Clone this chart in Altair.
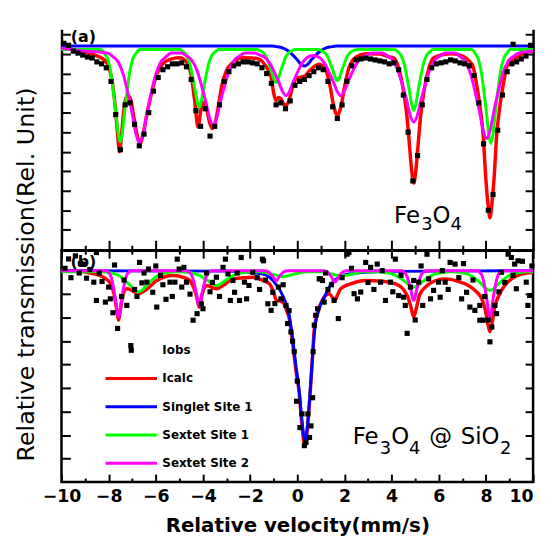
import altair as alt
import pandas as pd

FONT = "DejaVu Sans"

# ---------------- panel (a): Fe3O4 ----------------
top_obs_x = [-9.9, -9.7, -9.5, -9.3, -9.1, -8.9, -8.7, -8.5, -8.3, -8.1,
             -7.9, -7.7, -7.5, -7.3, -7.1, -6.9, -6.7, -6.5, -6.3, -6.1,
             -5.9, -5.7, -5.5, -5.3, -5.1, -4.9, -4.7, -4.5, -4.3, -4.1,
             -3.9, -3.7, -3.5, -3.3, -3.1, -2.9, -2.7, -2.5, -2.3, -2.1,
             -1.9, -1.7, -1.5, -1.3, -1.1, -0.9, -0.7, -0.5, -0.3, -0.1,
             0.1, 0.3, 0.5, 0.7, 0.9, 1.1, 1.3, 1.5, 1.7, 1.9,
             2.1, 2.3, 2.5, 2.7, 2.9, 3.1, 3.3, 3.5, 3.7, 3.9,
             4.1, 4.3, 4.5, 4.7, 4.9, 5.1, 5.3, 5.5, 5.7, 5.9,
             6.1, 6.3, 6.5, 6.7, 6.9, 7.1, 7.3, 7.5, 7.7, 7.9,
             8.1, 8.3, 8.5, 8.7, 8.9, 9.1, 9.3, 9.5, 9.7, 9.9, 9.15]
top_obs_y = [10.55, 10.45, 10.15, 10.05, 9.95, 9.85, 9.8, 9.6, 9.5, 9.3,
             8.6, 6.9, 5.1, 7.4, 7.5, 6.4, 5.3, 5.9, 7.0, 8.1,
             8.8, 9.2, 9.35, 9.5, 9.5, 9.55, 9.35, 8.7, 7.1, 6.3,
             7.2, 5.8, 6.3, 7.4, 8.6, 9.1, 9.4, 9.5, 9.6, 9.6,
             9.55, 9.5, 9.3, 9.0, 8.5, 7.4, 7.5, 7.2, 7.6, 8.4,
             8.6, 8.7, 8.9, 9.1, 9.3, 9.2, 8.6, 7.3, 6.7, 7.4,
             8.6, 9.4, 9.7, 9.75, 9.8, 9.75, 9.7, 9.65, 9.6, 9.5,
             9.55, 9.2, 7.9, 6.0, 3.5, 4.8, 7.4, 8.7, 9.3, 9.5,
             9.55, 9.6, 9.7, 9.65, 9.55, 9.5, 9.4, 8.9, 7.5, 5.4,
             2.0, 2.8, 6.1, 7.9, 9.1, 9.5, 9.6, 9.75, 9.9, 10.45, 10.5]

top_red_x = [-10, -9.5, -9.0, -8.6, -8.22, -8.0, -7.85, -7.72, -7.62, -7.54,
             -7.45, -7.35, -7.25, -7.16, -7.05, -6.95, -6.82, -6.67, -6.52, -6.38,
             -6.2, -5.96, -5.7, -5.4, -4.98, -4.7, -4.5, -4.35, -4.21, -4.08,
             -3.97, -3.85, -3.72, -3.6, -3.48, -3.35, -3.2, -3.01, -2.7, -2.31,
             -1.9, -1.6, -1.35, -1.11, -1.0, -0.9, -0.8, -0.69, -0.58, -0.48,
             -0.36, -0.2, -0.06, 0.08, 0.3, 0.51, 0.93, 1.2, 1.4, 1.55,
             1.7, 1.85, 2.0, 2.19, 2.5, 2.9, 3.5, 3.9, 4.1, 4.24,
             4.38, 4.52, 4.66, 4.75, 4.85, 4.94, 5.03, 5.13, 5.22, 5.36,
             5.5, 5.64, 5.78, 6.1, 6.56, 7.0, 7.33, 7.47, 7.61, 7.75,
             7.89, 7.98, 8.08, 8.17, 8.26, 8.36, 8.45, 8.59, 8.73, 8.87,
             9.01, 9.3, 9.6, 10]
top_red_y = [10.32, 10.22, 10.1, 9.95, 9.73, 9.35, 8.6, 7.3, 5.9, 4.99,
             5.9, 7.2, 7.8, 7.87, 7.6, 6.9, 6.0, 5.42, 6.0, 6.9,
             7.9, 8.97, 9.5, 9.73, 9.81, 9.6, 8.9, 7.6, 6.26, 7.2,
             7.53, 7.2, 6.5, 6.18, 6.5, 7.3, 8.4, 9.14, 9.6, 9.81,
             9.8, 9.73, 9.4, 8.81, 8.0, 7.61, 7.78, 7.7, 7.45, 7.36,
             7.6, 8.3, 8.71, 8.81, 8.85, 9.14, 9.48, 9.2, 8.3, 7.3,
             6.85, 7.3, 8.3, 9.3, 9.85, 10.02, 10.0, 9.85, 9.8, 9.5,
             8.9, 8.0, 6.7, 5.44, 4.05, 3.39, 4.05, 5.44, 6.7, 8.0,
             8.9, 9.5, 9.8, 9.95, 10.02, 9.9, 9.6, 9.3, 8.4, 7.3,
             5.75, 3.9, 2.4, 1.61, 2.4, 3.9, 5.75, 7.3, 8.4, 9.3,
             9.6, 9.8, 10.05, 10.17]

top_blue_x = [-10, -1.05, -0.825, -0.6, -0.375, -0.15, 0.0, 0.15, 0.3, 0.45,
              0.6, 0.75, 0.975, 1.2, 1.425, 1.65, 10]
top_blue_y = [10.41, 10.41, 10.37, 10.31, 10.16, 9.90, 9.71, 9.49, 9.39, 9.49,
              9.71, 9.90, 10.16, 10.31, 10.37, 10.41, 10.41]

top_green_x = [-10,
               -8.32, -8.19, -8.05, -7.91, -7.78, -7.69, -7.60, -7.51, -7.42, -7.33, -7.24, -7.11, -6.97, -6.83, -6.70,
               -4.97, -4.84, -4.70, -4.56, -4.43, -4.34, -4.25, -4.16, -4.07, -3.98, -3.89, -3.76, -3.62, -3.48, -3.35,
               -1.71, -1.58, -1.44, -1.30, -1.17, -1.08, -0.99, -0.90, -0.81, -0.72, -0.63, -0.50, -0.36, -0.22, -0.09,
               0.89, 1.02, 1.16, 1.30, 1.43, 1.52, 1.61, 1.70, 1.79, 1.88, 1.97, 2.10, 2.24, 2.38, 2.51,
               4.13, 4.26, 4.40, 4.54, 4.67, 4.76, 4.85, 4.94, 5.03, 5.12, 5.21, 5.34, 5.48, 5.62, 5.75,
               7.40, 7.53, 7.67, 7.81, 7.94, 8.03, 8.12, 8.21, 8.30, 8.39, 8.48, 8.61, 8.75, 8.89, 9.02,
               10]
top_green_y = [10.24,
               10.24, 10.05, 9.77, 9.06, 7.87, 6.97, 5.97, 5.50, 5.97, 6.97, 7.87, 9.06, 9.77, 10.05, 10.24,
               10.24, 10.12, 9.94, 9.50, 8.76, 8.20, 7.58, 7.28, 7.58, 8.20, 8.76, 9.50, 9.94, 10.12, 10.24,
               10.24, 10.17, 10.07, 9.82, 9.39, 9.07, 8.71, 8.54, 8.71, 9.07, 9.39, 9.82, 10.07, 10.17, 10.24,
               10.24, 10.18, 10.08, 9.84, 9.43, 9.13, 8.79, 8.63, 8.79, 9.13, 9.43, 9.84, 10.08, 10.18, 10.24,
               10.24, 10.11, 9.93, 9.46, 8.67, 8.08, 7.42, 7.11, 7.42, 8.08, 8.67, 9.46, 9.93, 10.11, 10.24,
               10.24, 10.05, 9.76, 9.04, 7.83, 6.91, 5.90, 5.42, 5.90, 6.91, 7.83, 9.04, 9.76, 10.05, 10.24,
               10.24]

top_mag_x = [-10, -9.0,
             -8.04, -7.815, -7.59, -7.365, -7.14, -6.99, -6.84, -6.69, -6.54, -6.39, -6.24, -6.015, -5.79, -5.565, -5.34,
             -4.92, -4.695, -4.47, -4.245, -4.02, -3.87, -3.72, -3.57, -3.42, -3.27, -3.12, -2.895, -2.67, -2.445, -2.22,
             -1.83, -1.605, -1.38, -1.155, -0.93, -0.78, -0.63, -0.48, -0.33, -0.18, -0.03, 0.195, 0.42, 0.67,
             0.94, 1.165, 1.39, 1.54, 1.69, 1.84, 1.99, 2.14, 2.29, 2.515, 2.74, 2.965, 3.19,
             3.59, 3.815, 4.04, 4.265, 4.49, 4.64, 4.79, 4.94, 5.09, 5.24, 5.39, 5.615, 5.84, 6.065, 6.29,
             6.68, 6.905, 7.13, 7.355, 7.58, 7.73, 7.88, 8.03, 8.18, 8.33, 8.48, 8.705, 8.93, 9.155, 9.38,
             10]
top_mag_y = [10.30, 10.15,
             10.05, 9.87, 9.59, 8.90, 7.75, 6.88, 5.91, 5.45, 5.91, 6.88, 7.75, 8.90, 9.59, 9.87, 10.05,
             10.05, 9.90, 9.68, 9.13, 8.20, 7.50, 6.72, 6.35, 6.72, 7.50, 8.20, 9.13, 9.68, 9.90, 10.05,
             10.05, 9.96, 9.83, 9.51, 8.96, 8.55, 8.09, 7.87, 8.09, 8.55, 8.96, 9.51, 9.83, 9.93,
             9.83, 9.51, 8.96, 8.55, 8.09, 7.87, 8.09, 8.55, 8.96, 9.51, 9.83, 9.96, 10.05,
             10.05, 9.91, 9.70, 9.17, 8.28, 7.61, 6.86, 6.51, 6.86, 7.61, 8.28, 9.17, 9.70, 9.91, 10.05,
             10.05, 9.87, 9.61, 8.96, 7.86, 7.03, 6.11, 5.67, 6.11, 7.03, 7.86, 8.96, 9.61, 9.87, 10.05,
             10.15]

# ---------------- panel (b): Fe3O4 @ SiO2 ----------------
bot_obs_x = [-9.85, -9.7, -9.41, -9.25, -9.06, -8.94, -8.63, -8.52, -8.52, -8.28,
             -8.14, -8.0, -7.93, -7.82, -7.75, -7.62, -7.23, -7.06, -6.9, -6.69,
             -6.59, -6.38, -6.31, -6.13, -5.96, -5.8, -5.57, -5.4, -5.19, -5.09,
             -5.01, -4.81, -4.7, -4.42, -4.25, -4.07, -4.0, -3.7, -3.6, -3.43,
             -3.15, -3.05, -2.94, -2.84, -2.73, -2.66, -2.45, -2.38, -2.24, -2.05,
             -1.89, -1.7, -1.48, -1.43, -1.25, -1.11, -1.04, -0.8, -0.69, -0.48,
             -0.41, -0.27, -0.2, -0.13, -0.03, 0.0, 0.11, 0.3, 0.37, 0.45,
             0.52, 0.58, 0.65, 0.67, 0.72, 0.86, 0.93, 0.98, 1.07, 1.14,
             1.3, 1.56, 1.74, 2.11, 2.19, 2.41, 2.69, 2.9, 3.0, 3.11,
             3.39, 3.53, 3.74, 3.95, 4.16, 4.3, 4.51, 4.58, 4.66, 4.8,
             4.94, 5.0, 5.15, 5.32, 5.5, 5.57, 5.78, 5.99, 6.06, 6.27,
             6.48, 6.69, 6.97, 7.18, 7.32, 7.53, 7.74, 7.74, 7.88, 8.17,
             8.25, 8.38, 8.45, 8.55, 8.66, 8.94, 9.08, 9.22, 9.29, 9.36,
             9.71, 9.78, 9.85, 9.95,
             -9.6, -9.2, -8.8, -8.4, -7.45, -7.35, -6.8, -6.5, -6.0, -5.7,
             -5.3, -4.9, -4.55, -3.85, -3.3, -2.55, -2.15, -1.6, -1.35, -0.95,
             -0.6, -0.35, 0.2, 0.78, 1.2, 1.45, 1.9, 2.3, 2.55, 3.25,
             3.6, 4.05, 4.4, 5.25, 5.65, 6.15, 6.4, 6.85, 7.05, 7.45,
             7.95, 8.1, 8.8, 9.15, 9.55]
bot_obs_y = [9.1, 9.5, 9.63, 8.9, 9.28, 8.68, 8.51, 9.77, 7.73, 8.54,
             7.66, 8.3, 7.8, 7.21, 9.24, 6.54, 7.52, 5.81, 8.2, 9.35,
             8.48, 8.51, 9.07, 8.08, 7.45, 8.8, 7.78, 8.51, 8.51, 9.49,
             9.07, 9.14, 8.51, 6.89, 7.17, 7.59, 7.38, 8.1, 8.5, 8.72,
             9.14, 9.49, 8.86, 7.73, 8.58, 8.08, 7.73, 9.56, 8.51, 8.37,
             8.93, 8.7, 9.49, 9.42, 7.59, 7.31, 8.08, 8.3, 7.8, 7.52,
             6.75, 6.39, 6.0, 5.55, 3.44, 4.3, 2.32, 1.55, 1.69, 2.9,
             1.9, 2.39, 3.59, 5.55, 6.68, 7.38, 8.65, 8.65, 8.58, 7.66,
             8.2, 7.73, 6.96, 9.7, 9.77, 8.02, 8.09, 9.35, 8.5, 9.14,
             9.28, 8.51, 7.73, 8.51, 9.49, 7.94, 7.87, 7.52, 6.33, 8.3,
             8.58, 6.9, 8.51, 7.52, 9.7, 8.65, 8.16, 8.51, 7.87, 8.51,
             9.35, 9.28, 7.8, 8.08, 7.45, 7.31, 7.52, 6.89, 6.89, 5.97,
             6.6, 7.52, 7.17, 8.1, 8.93, 9.7, 9.56, 9.28, 8.23, 9.42,
             8.51, 7.52, 7.94, 9.2,
             8.7, 9.3, 9.05, 8.9, 7.9, 8.6, 7.9, 8.9, 9.2, 8.4,
             7.9, 8.3, 8.0, 8.9, 7.9, 8.9, 7.8, 8.2, 8.6, 7.6,
             8.4, 7.3, 2.9, 7.1, 8.9, 8.4, 8.7, 9.1, 7.8, 8.2,
             9.0, 8.1, 8.8, 9.2, 7.8, 9.0, 8.2, 8.7, 9.3, 8.6,
             7.9, 6.9, 8.5, 8.8, 9.4]

bot_red_x = [-10, -9.48, -8.8, -8.22, -7.92, -7.75, -7.66, -7.58, -7.50, -7.40,
             -7.23, -7.0, -6.74, -6.4, -5.96, -5.26, -4.8, -4.56, -4.40, -4.27,
             -4.16, -4.06, -3.95, -3.85, -3.43, -3.1, -2.73, -1.89, -1.5, -1.18,
             -0.98, -0.90, -0.83, -0.62, -0.45, -0.34, -0.2, -0.05, 0.08, 0.2,
             0.32, 0.44, 0.56, 0.65, 0.72, 0.9, 1.14, 1.35, 1.50, 1.60,
             1.70, 1.84, 2.3, 2.9, 3.6, 4.16, 4.5, 4.70, 4.82, 4.94,
             5.06, 5.18, 5.43, 5.8, 6.27, 6.8, 7.26, 7.6, 7.82, 7.98,
             8.08, 8.17, 8.26, 8.36, 8.52, 8.75, 9.08, 9.5, 9.93, 10]
bot_red_y = [9.0, 9.0, 8.9, 8.72, 8.45, 7.9, 7.35, 6.89, 7.35, 7.95,
             8.23, 8.15, 8.02, 8.2, 8.58, 8.79, 8.7, 8.58, 8.3, 7.9,
             7.45, 7.9, 8.25, 8.37, 8.23, 8.4, 8.65, 8.72, 8.6, 8.44,
             8.0, 7.75, 7.73, 7.67, 7.3, 6.96, 5.95, 4.7, 3.8, 2.4,
             1.55, 2.4, 4.0, 5.4, 6.5, 7.3, 7.88, 8.02, 7.85, 7.73,
             7.95, 8.23, 8.45, 8.58, 8.55, 8.44, 8.2, 7.85, 7.45, 7.03,
             7.45, 7.95, 8.3, 8.55, 8.65, 8.55, 8.37, 8.1, 7.81, 7.3,
             6.75, 6.4, 6.75, 7.4, 7.88, 8.3, 8.65, 8.85, 8.93, 8.95]

bot_blue_x = [-10, -3.0, -1.5, -1.0, -0.6, -0.34, -0.2, -0.05, 0.08, 0.2,
              0.33, 0.45, 0.56, 0.65, 0.74, 0.9, 1.14, 1.49, 2.19, 4.0, 10]
bot_blue_y = [9.0, 8.98, 8.87, 8.55, 7.9, 7.1, 6.12, 4.9, 3.9, 2.6,
              1.76, 2.6, 4.1, 5.4, 6.5, 7.3, 7.85, 8.5, 8.86, 8.97, 9.0]

bot_green_x = [-10,
               -8.24, -7.99, -7.74, -7.49, -7.24, -7.07, -6.91, -6.74, -6.57, -6.41, -6.24, -5.99, -5.74, -5.49, -5.24,
               -4.93, -4.68, -4.43, -4.18, -3.93, -3.76, -3.60, -3.43, -3.26, -3.10, -2.93, -2.68, -2.43, -2.18, -1.93,
               -1.6, -1.1, -0.85, -0.6, -0.35, -0.1, 0.4,
               1.0, 1.4, 1.65, 1.9, 2.15, 2.4, 2.8,
               3.44, 3.69, 3.94, 4.19, 4.44, 4.61, 4.77, 4.94, 5.11, 5.27, 5.44, 5.69, 5.94, 6.19, 6.44,
               6.67, 6.92, 7.17, 7.42, 7.67, 7.84, 8.00, 8.17, 8.34, 8.50, 8.67, 8.92, 9.17, 9.42, 9.67,
               10]
bot_green_y = [8.95,
               8.95, 8.92, 8.86, 8.74, 8.52, 8.36, 8.18, 8.09, 8.18, 8.36, 8.52, 8.74, 8.86, 8.92, 8.95,
               8.95, 8.93, 8.89, 8.81, 8.66, 8.55, 8.43, 8.37, 8.43, 8.55, 8.66, 8.81, 8.89, 8.93, 8.95,
               8.95, 8.86, 8.79, 8.75, 8.79, 8.86, 8.95,
               8.95, 8.87, 8.81, 8.78, 8.81, 8.87, 8.95,
               8.95, 8.92, 8.89, 8.79, 8.63, 8.50, 8.37, 8.30, 8.37, 8.50, 8.63, 8.79, 8.89, 8.92, 8.95,
               8.95, 8.92, 8.87, 8.75, 8.56, 8.40, 8.24, 8.16, 8.24, 8.40, 8.56, 8.75, 8.87, 8.92, 8.95,
               8.95]

bot_mag_x = [-10,
             -8.09, -8.01, -7.92, -7.84, -7.75, -7.69, -7.64, -7.58, -7.52, -7.47, -7.41, -7.32, -7.24, -7.15, -7.07,
             -4.67, -4.59, -4.50, -4.42, -4.33, -4.27, -4.22, -4.16, -4.10, -4.05, -3.99, -3.90, -3.82, -3.73, -3.65,
             -1.41, -1.24, -1.07, -1.01, -0.96, -0.90, -0.84, -0.79, -0.73, -0.56, -0.39,
             1.09, 1.26, 1.43, 1.49, 1.54, 1.60, 1.66, 1.71, 1.77, 1.94, 2.11,
             4.43, 4.51, 4.60, 4.68, 4.77, 4.83, 4.88, 4.94, 5.00, 5.05, 5.11, 5.20, 5.28, 5.37, 5.45,
             7.66, 7.74, 7.83, 7.91, 8.00, 8.06, 8.11, 8.17, 8.23, 8.28, 8.34, 8.43, 8.51, 8.60, 8.68,
             10]
bot_mag_y = [9.0,
             9.0, 8.92, 8.80, 8.51, 8.02, 7.64, 7.23, 7.03, 7.23, 7.64, 8.02, 8.51, 8.80, 8.92, 9.0,
             9.0, 8.94, 8.85, 8.63, 8.26, 7.98, 7.67, 7.52, 7.67, 7.98, 8.26, 8.63, 8.85, 8.94, 9.0,
             9.0, 8.96, 8.79, 8.71, 8.62, 8.58, 8.62, 8.71, 8.79, 8.96, 9.0,
             9.0, 8.95, 8.76, 8.66, 8.56, 8.51, 8.56, 8.66, 8.76, 8.95, 9.0,
             9.0, 8.95, 8.87, 8.68, 8.37, 8.12, 7.86, 7.73, 7.86, 8.12, 8.37, 8.68, 8.87, 8.95, 9.0,
             9.0, 8.92, 8.80, 8.51, 8.02, 7.64, 7.23, 7.03, 7.23, 7.64, 8.02, 8.51, 8.80, 8.92, 9.0,
             9.0]

series_names = ["Iobs", "Icalc", "Singlet Site 1", "Sextet Site 1", "Sextet Site 2"]
series_colors = ["#000000", "#ff0000", "#0000ff", "#00ff00", "#ff00ff"]
x_major = [-10, -8, -6, -4, -2, 0, 2, 4, 6, 8, 10]
x_minor = [-9, -7, -5, -3, -1, 1, 3, 5, 7, 9]
top_yticks = [1, 2, 3, 4, 5, 6, 7, 8, 9, 10, 11]
bot_yticks = [1, 2, 3, 4, 5, 6, 7, 8, 9]

# sample names with chemical subscripts: (text piece, x position, is_subscript)
top_name_text = ["Fe", "3", "O", "4"]
top_name_x = [4.105, 5.256, 5.735, 6.496]
top_name_sub = [False, True, False, True]
bot_name_text = ["Fe", "3", "O", "4", "@", "SiO", "2"]
bot_name_x = [2.35, 3.50, 3.98, 4.74, 5.60, 6.93, 8.60]
bot_name_sub = [False, True, False, True, False, False, True]

SQ = "M-1,-1L1,-1L1,1L-1,1Z"
LN = "M-10,-0.6L10,-0.6L10,0.6L-10,0.6Z"
series_shapes = [SQ, LN, LN, LN, LN]

W = 476
H_TOP = 223
H_BOT = 234

xs = alt.Scale(domain=[-10, 10], nice=False, zero=False)
ys_top = alt.Scale(domain=[-0.05, 11.27], nice=False, zero=False)
ys_bot = alt.Scale(domain=[0, 9.87], nice=False, zero=False)


def df(x, y):
    return pd.DataFrame({"v": x, "t": y})


def tick_axis(orient, values, size, labels=False, **kw):
    return alt.Axis(orient=orient, values=values, offset=-size, tickSize=size,
                    tickWidth=2, tickColor="black", labels=labels, domain=False,
                    grid=False, **kw)


def dom_axis(orient, **kw):
    return alt.Axis(orient=orient, ticks=False, labels=False, domain=True,
                    domainWidth=2.5, domainColor="black", grid=False, **kw)


def line(x, y, color, width, ys, xaxis, yaxis):
    return alt.Chart(df(x, y)).mark_line(color=color, strokeWidth=width, interpolate="monotone").encode(
        x=alt.X("v:Q", scale=xs, axis=xaxis),
        y=alt.Y("t:Q", scale=ys, axis=yaxis),
    )


def name_layers(texts, xpos, subs, ybase, ysub, ys):
    big = pd.DataFrame({"s": [t for t, s in zip(texts, subs) if not s],
                        "v": [x for x, s in zip(xpos, subs) if not s]})
    small = pd.DataFrame({"s": [t for t, s in zip(texts, subs) if s],
                          "v": [x for x, s in zip(xpos, subs) if s]})
    a = alt.Chart(big).mark_text(font=FONT, fontSize=23, color="black", align="left",
                                 baseline="alphabetic").encode(
        x=alt.X("v:Q", scale=xs, axis=None),
        y=alt.YDatum(ybase, type="quantitative", scale=ys, axis=None),
        text="s:N")
    b = alt.Chart(small).mark_text(font=FONT, fontSize=18, color="black", align="left",
                                   baseline="alphabetic").encode(
        x=alt.X("v:Q", scale=xs, axis=None),
        y=alt.YDatum(ysub, type="quantitative", scale=ys, axis=None),
        text="s:N")
    return [a, b]


# ---- top panel ----
t_red = line(top_red_x, top_red_y, "#ff0000", 3.5, ys_top,
             tick_axis("bottom", x_major, 10, title=None),
             tick_axis("left", top_yticks, 9, title=None))
t_blue = line(top_blue_x, top_blue_y, "#0000ff", 3, ys_top,
              tick_axis("bottom", x_minor, 5, title=None),
              tick_axis("right", top_yticks, 8, title=None))
t_green = line(top_green_x, top_green_y, "#00ff00", 3, ys_top,
               dom_axis("bottom", title=None),
               dom_axis("left", title="Relative transmission(Rel. Unit)",
                        titleFont=FONT, titleFontSize=24, titleFontWeight="normal",
                        titleColor="black", titleAngle=270, titleX=-28, titleY=247,
                        titleAlign="center", titleBaseline="alphabetic"))
t_mag = line(top_mag_x, top_mag_y, "#ff00ff", 3, ys_top,
             None, dom_axis("right", title=None))
t_obs = alt.Chart(df(top_obs_x, top_obs_y)).mark_point(
    shape=SQ, size=27, filled=True, color="black", opacity=1, strokeWidth=0).encode(
    x=alt.X("v:Q", scale=xs, axis=None),
    y=alt.Y("t:Q", scale=ys_top, axis=None),
)
t_lab = alt.Chart(pd.DataFrame({"s": ["(a)"]})).mark_text(
    font=FONT, fontSize=16, fontWeight="bold", color="black", align="center", baseline="middle").encode(
    x=alt.XDatum(-9.07, type="quantitative", scale=xs, axis=None),
    y=alt.YDatum(10.85, type="quantitative", scale=ys_top, axis=None),
    text="s:N",
)
top = alt.layer(t_red, t_blue, t_green, t_mag, t_obs, t_lab,
                *name_layers(top_name_text, top_name_x, top_name_sub, 1.37, 0.97, ys_top)).resolve_axis(
    x="independent", y="independent").properties(
    width=W, height=H_TOP, view=alt.ViewBackground(stroke="transparent"))

# ---- bottom panel ----
last_right = {"condition": {"test": "datum.value == 10", "value": "right"}, "value": "center"}
b_red = line(bot_red_x, bot_red_y, "#ff0000", 3.5, ys_bot,
             tick_axis("bottom", x_major, 8, labels=True, title="Relative velocity(mm/s)",
                       labelFont=FONT, labelFontSize=17.5, labelFontWeight="bold", labelColor="black",
                       labelPadding=6, labelFlush=False, labelAlign=last_right,
                       titleFont=FONT, titleFontSize=20, titleFontWeight="bold", titleColor="black",
                       titlePadding=10.5),
             tick_axis("left", bot_yticks, 9, title=None))
b_blue = line(bot_blue_x, bot_blue_y, "#0000ff", 3, ys_bot,
              tick_axis("bottom", x_minor, 4, title=None),
              tick_axis("right", bot_yticks, 8, title=None))
b_green = line(bot_green_x, bot_green_y, "#00ff00", 3, ys_bot,
               tick_axis("top", x_major, 8, title=None), None)
b_mag = line(bot_mag_x, bot_mag_y, "#ff00ff", 3, ys_bot,
             tick_axis("top", x_minor, 4, title=None), None)

leg = alt.Legend(orient="none", legendX=64.4, legendY=95, title=None,
                 labelFont=FONT, labelFontSize=12, labelFontWeight="bold", labelColor="black",
                 symbolSize=27, symbolStrokeWidth=0, rowPadding=16.5, labelOffset=25.4,
                 padding=0, symbolOpacity=1)
bot_obs_df = df(bot_obs_x, bot_obs_y)
bot_obs_df["series"] = "Iobs"
b_obs = alt.Chart(bot_obs_df).mark_point(size=27, filled=True, opacity=1, strokeWidth=0).encode(
    x=alt.X("v:Q", scale=xs, axis=None),
    y=alt.Y("t:Q", scale=ys_bot, axis=None),
    color=alt.Color("series:N", scale=alt.Scale(domain=series_names, range=series_colors), legend=leg),
    shape=alt.Shape("series:N", scale=alt.Scale(domain=series_names, range=series_shapes), legend=leg),
)
b_lab = alt.Chart(pd.DataFrame({"s": ["(b)"]})).mark_text(
    font=FONT, fontSize=16, fontWeight="bold", color="black", align="center", baseline="middle").encode(
    x=alt.XDatum(-9.07, type="quantitative", scale=xs, axis=None),
    y=alt.YDatum(9.37, type="quantitative", scale=ys_bot, axis=None),
    text="s:N",
)
bottom = alt.layer(b_red, b_blue, b_green, b_mag, b_obs, b_lab,
                   *name_layers(bot_name_text, bot_name_x, bot_name_sub, 1.62, 1.18, ys_bot)).resolve_axis(
    x="independent", y="independent").properties(
    width=W, height=H_BOT, view=alt.ViewBackground(stroke="black", strokeWidth=2.5))

chart = alt.vconcat(top, bottom, spacing=0, bounds="flush").resolve_scale(
    color="independent", shape="independent").properties(
    padding={"left": 6, "top": 18, "right": 0, "bottom": 0},
    background="white",
).configure_axis(grid=False)

chart.save("out.html", embed_options={"renderer": "svg", "actions": False})
